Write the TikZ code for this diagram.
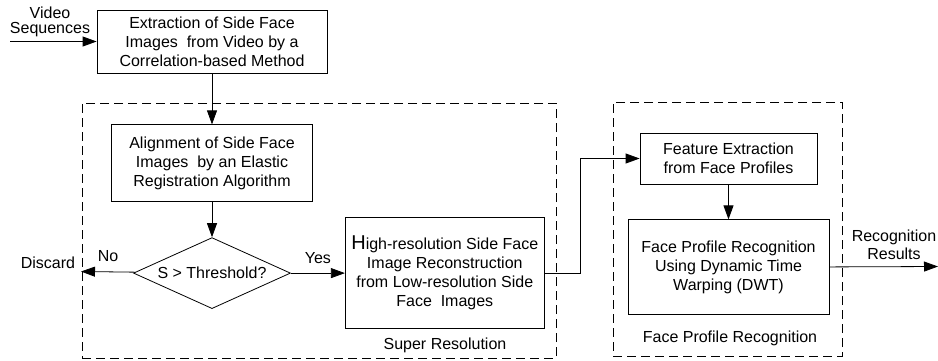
\documentclass[tikz,border=0pt]{standalone}
\usepackage{fontspec}
\setmainfont{Liberation Sans}
\usetikzlibrary{positioning,shapes.geometric,arrows.meta}

\tikzset{
	block/.style={draw, line width=0.8pt, inner sep=0pt, align=center},
	decision/.style={draw, diamond, aspect=2.2, line width=0.8pt, inner sep=0pt, align=center},
	group/.style={draw, line width=0.8pt, dash pattern=on 9pt off 5pt, inner sep=0pt},
	flow/.style={-{Triangle[length=14pt,width=10pt]}, line width=0.8pt},
}

\begin{document}
\begin{tikzpicture}[x=1pt, y=-1pt, font=\fontsize{16}{19}\selectfont]
		\useasboundingbox (0,0) rectangle (938,360) ;
		% Groups
		\node[group, minimum width=474pt, minimum height=255pt] (srgroup) at (319,230.5) {} ;
		\node[group, minimum width=229pt, minimum height=254pt] (fprgroup) at (727.5,229) {} ;
		\node (srlabel) at (445,345) {Super Resolution} ;
		\node (fprlabel) at (730,338) {Face Profile Recognition} ;
		% Left column
		\node[block, minimum width=230pt, minimum height=63pt] (extract) at (212,41.5) {Extraction of Side Face\\Images~ from Video by a\\Correlation-based Method} ;
		\node[block, below=51pt of extract, minimum width=201pt, minimum height=77pt] (align) {Alignment of Side Face\\Images~ by an Elastic\\Registration Algorithm} ;
		\node[decision, below=35pt of align, minimum width=157pt, minimum height=71pt] (cond) {S > Threshold?} ;
		\node[block, right=54pt of cond, minimum width=199pt, minimum height=111pt] (hires) {{\fontsize{20}{19}\selectfont H}igh-resolution Side Face\\Image Reconstruction\\from Low-resolution Side\\Face~ Images} ;
		% Right column
		\node[block, minimum width=177pt, minimum height=51pt] (feature) at (728.5,158.5) {Feature Extraction\\from Face Profiles} ;
		\node[block, below=35pt of feature, minimum width=201pt, minimum height=95pt] (fpr) {Face Profile Recognition\\Using Dynamic Time\\Warping (DWT)} ;
		% Inputs and outputs
		\node (video) at (50,22) {\shortstack{Video\\Sequences}} ;
		\coordinate (videoin) at (10,41.5) ;
		\node (discard) at (48,263) {Discard} ;
		\coordinate (discardpt) at (81,271.5) ;
		\node (results) at (894,245) {\shortstack{Recognition\\Results}} ;
		\coordinate (resultpt) at (938,266.5) ;
		% Connectors
		\draw[flow] (videoin) -- (extract) ;
		\draw[flow] (extract) -- (align) ;
		\draw[flow] (align) -- (cond) ;
		\draw[flow] (cond) -- node[above=6pt] {No} (discardpt) ;
		\draw[flow] (cond) -- node[above=6pt] {Yes} (hires) ;
		\draw[flow] (hires.east) -- ++(36,0) |- (feature.west) ;
		\draw[flow] (feature) -- (fpr) ;
		\draw[flow] (fpr) -- (resultpt) ;
	\end{tikzpicture}
\end{document}
